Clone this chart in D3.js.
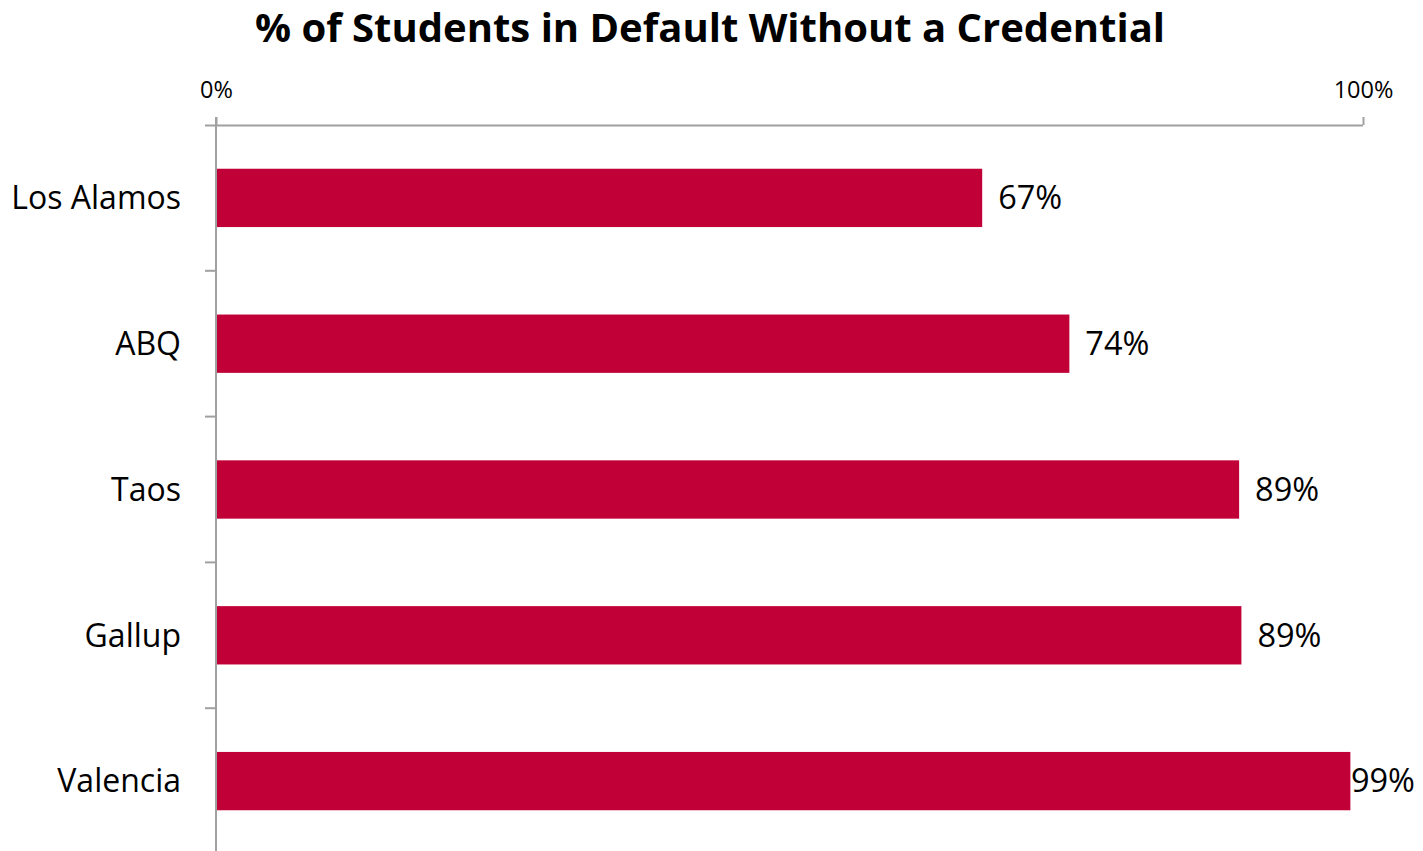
<!DOCTYPE html>
<html>
<head>
<meta charset="utf-8">
<script src="https://cdn.jsdelivr.net/npm/d3@7"></script>
<style>
  html, body { margin: 0; padding: 0; background: #fff; }
  svg { display: block; font-family: "Open Sans", "Liberation Sans", sans-serif; }
</style>
</head>
<body>
<svg id="chart" width="1423" height="851"></svg>
<script>
// Share of defaulted students who left without a credential, by campus
const categories = ["Los Alamos", "ABQ", "Taos", "Gallup", "Valencia"];
const values = [0.668, 0.744, 0.892, 0.894, 0.989];
const axisTicks = [0, 1];
const titleText = "% of Students in Default Without a Credential";

(function () {
  const svg = d3.select("#chart");
  const W = 1423, H = 851;
  const plotLeft = 216, plotRight = 1363, plotTop = 125, plotBottom = 854;

  const x = d3.scaleLinear().domain([0, 1]).range([plotLeft, plotRight]);
  const y = d3.scaleBand().domain(categories).range([plotTop, plotBottom]).paddingInner(0.6).paddingOuter(0.3);

  const axisColor = "#a0a0a0";
  const barColor = "#c00037";

  // title
  svg.append("text")
    .attr("x", 710).attr("y", 42)
    .attr("text-anchor", "middle")
    .attr("font-size", 40).attr("font-weight", 700)
    .attr("fill", "#000")
    .text(titleText);

  // bars
  svg.append("g").selectAll("rect")
    .data(categories)
    .join("rect")
    .attr("x", x(0))
    .attr("y", d => y(d))
    .attr("width", (d, i) => x(values[i]) - x(0))
    .attr("height", y.bandwidth())
    .attr("fill", barColor);

  // top value axis
  const xAxis = d3.axisTop(x).tickValues(axisTicks).tickFormat(d3.format(".0%")).tickSize(8).tickSizeOuter(0).tickPadding(19);
  const gx = svg.append("g").attr("transform", `translate(0,${plotTop})`).call(xAxis);
  gx.select(".domain").attr("stroke", axisColor).attr("stroke-width", 2)
    .attr("d", `M${plotLeft - 11},0.5H${plotRight}`);
  gx.selectAll(".tick line").attr("stroke", axisColor).attr("stroke-width", 2);
  gx.selectAll(".tick text").attr("font-size", 23.5).attr("fill", "#000")
    .attr("font-family", "'Open Sans', sans-serif");

  // category axis with ticks between bands
  const boundaries = categories.map(c => y(c) - y.step() * y.paddingInner() / 2).concat([plotBottom]);
  const gy = svg.append("g");
  gy.append("line")
    .attr("x1", plotLeft).attr("x2", plotLeft)
    .attr("y1", plotTop - 8).attr("y2", H)
    .attr("stroke", axisColor).attr("stroke-width", 2);
  gy.selectAll("line.tk")
    .data(boundaries.slice(1))
    .join("line").attr("class", "tk")
    .attr("x1", plotLeft - 11).attr("x2", plotLeft)
    .attr("y1", d => d).attr("y2", d => d)
    .attr("stroke", axisColor).attr("stroke-width", 2);
  gy.selectAll("text")
    .data(categories)
    .join("text")
    .attr("x", 181)
    .attr("y", d => y(d) + y.bandwidth() / 2)
    .attr("dy", "0.35em")
    .attr("text-anchor", "end")
    .attr("font-size", 32)
    .attr("fill", "#000")
    .text(d => d);

  // value labels
  const fmt = d3.format(".0%");
  svg.append("g").selectAll("text")
    .data(categories)
    .join("text")
    .attr("y", d => y(d) + y.bandwidth() / 2)
    .attr("dy", "0.35em")
    .attr("font-size", 32.5)
    .attr("fill", "#000")
    .text((d, i) => fmt(values[i]))
    .attr("x", function (d, i) {
      const w = this.getComputedTextLength();
      return Math.min(x(values[i]) + 16, W - 8 - w);
    });
})();
</script>
</body>
</html>
